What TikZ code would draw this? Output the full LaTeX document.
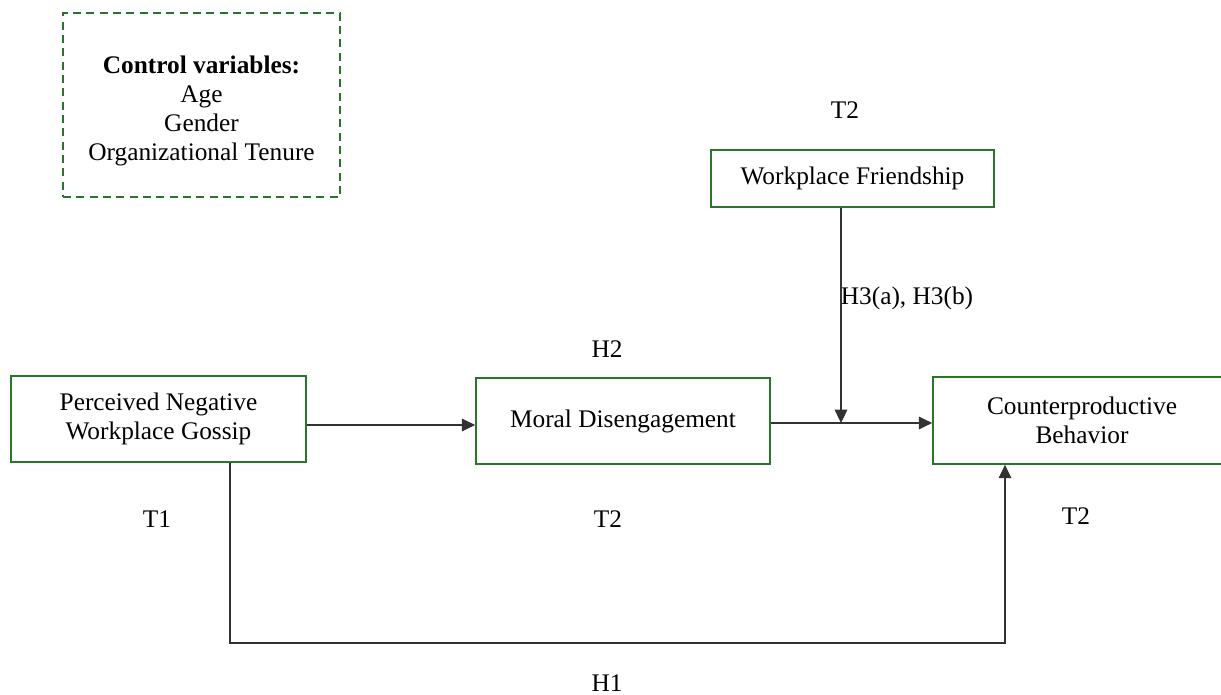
\documentclass[tikz,border=0pt]{standalone}
\usepackage{fontspec}
\setmainfont{Liberation Serif}
\usetikzlibrary{arrows.meta}
\definecolor{boxgreen}{RGB}{40,118,40}
\definecolor{linegray}{RGB}{50,50,50}
\begin{document}
\begin{tikzpicture}[x=0.75pt,y=-0.75pt,
  varbox/.style={draw=boxgreen,line width=1.3pt,rectangle,align=center,inner sep=0pt,
    font=\fontsize{19}{21.75}\selectfont},
  lbl/.style={font=\fontsize{19}{21.75}\selectfont,inner sep=0pt},
  conn/.style={draw=linegray,line width=0.8pt,-{Triangle[length=10pt,width=9.5pt]}}]
\useasboundingbox (0,0) rectangle (1221,695);
\begin{scope}
\clip (0,0) rectangle (1221,695);
\node[draw=boxgreen,line width=1.1pt,dash pattern=on 6pt off 4pt,rectangle,inner sep=0pt,
  minimum width=277*0.75pt,minimum height=184*0.75pt] (ctrl) at (201.5,105) {};
\node[lbl,align=center] (ctrltext) at (201.5,111) {\textbf{Control variables:}\\Age\\Gender\\Organizational Tenure};
\node[varbox,minimum width=295*0.75pt,minimum height=86*0.75pt] (pnwg) at (158.5,419) {Perceived Negative\\Workplace Gossip};
\node[varbox,minimum width=294*0.75pt,minimum height=86*0.75pt] (md) at (623,421) {Moral Disengagement};
\node[varbox,minimum width=298*0.75pt,minimum height=87*0.75pt] (cb) at (1082,420.5) {Counterproductive\\Behavior};
\node[varbox,minimum width=283*0.75pt,minimum height=57*0.75pt] (wf) at (852.5,178.5) {Workplace Friendship};
\end{scope}
\node[lbl] (t2a) at (845,110) {T2};
\node[lbl] (h3) at (907,298) {H3(a), H3(b)};
\node[lbl] (h2) at (607,349) {H2};
\node[lbl] (t1) at (157,519) {T1};
\node[lbl] (t2b) at (608,519) {T2};
\node[lbl] (t2c) at (1076,516) {T2};
\node[lbl] (h1) at (607,683) {H1};
\coordinate (mid) at (841,423);
\coordinate (c1) at (230,643);
\coordinate (c2) at (1005,643);
\draw[conn] (pnwg.east |- 0,425) -- (md.west |- 0,425);
\draw[conn] (md.east |- mid) -- (cb.west |- mid);
\draw[conn] (wf.south -| mid) -- (mid);
\draw[conn] (pnwg.south -| c1) -- (c1) -- (c2) -- (cb.south -| c2);
\end{tikzpicture}
\end{document}
